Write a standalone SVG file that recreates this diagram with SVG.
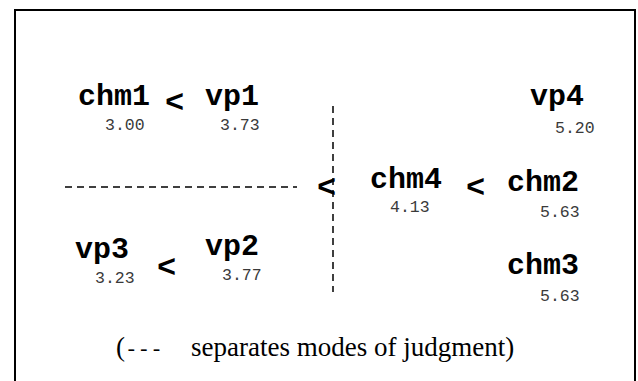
<svg xmlns="http://www.w3.org/2000/svg" width="638" height="381" viewBox="0 0 638 381">
<style>
.lbl{font-family:"Liberation Mono","Courier New",monospace;font-weight:bold;font-size:30px;fill:#000}
.lt{font-family:"Liberation Mono","Courier New",monospace;font-weight:bold;font-size:32px;fill:#000}
.num{font-family:"Liberation Mono","Courier New",monospace;font-size:16.5px;fill:#3a3a3a}
.leg{font-family:"Liberation Serif","Times New Roman",serif;font-size:27px;fill:#000}
.dash{stroke:#000;stroke-width:1.5;stroke-dasharray:7,5;fill:none}
</style>
<rect width="638" height="381" fill="#fff"/>
<path d="M15,381 V10 H635 V381" fill="none" stroke="#000" stroke-width="2"/>
<g id="connectors">
<line class="dash" x1="333" y1="106" x2="333" y2="292"/>
<line class="dash" x1="65" y1="187" x2="297" y2="187"/>
</g>
<g id="chm1"><text class="lbl" x="78" y="105">chm1</text><text class="num" x="105" y="130">3.00</text></g>
<text class="lt" x="165" y="112">&lt;</text>
<g id="vp1"><text class="lbl" x="205" y="105">vp1</text><text class="num" x="220" y="130">3.73</text></g>
<g id="vp4"><text class="lbl" x="530" y="105">vp4</text><text class="num" x="555" y="133">5.20</text></g>
<text class="lt" x="317" y="197">&lt;</text>
<g id="chm4"><text class="lbl" x="370" y="188">chm4</text><text class="num" x="390" y="212">4.13</text></g>
<text class="lt" x="466" y="197">&lt;</text>
<g id="chm2"><text class="lbl" x="507" y="191">chm2</text><text class="num" x="540" y="217">5.63</text></g>
<g id="vp3"><text class="lbl" x="75" y="258">vp3</text><text class="num" x="95" y="283">3.23</text></g>
<text class="lt" x="157" y="277">&lt;</text>
<g id="vp2"><text class="lbl" x="205" y="255">vp2</text><text class="num" x="222" y="280">3.77</text></g>
<g id="chm3"><text class="lbl" x="507" y="274">chm3</text><text class="num" x="540" y="301">5.63</text></g>
<text class="leg" x="116" y="356">(<tspan font-family="'Liberation Mono',monospace" font-size="21">---</tspan></text>
<text class="leg" x="191" y="356">separates modes of judgment)</text>
</svg>
